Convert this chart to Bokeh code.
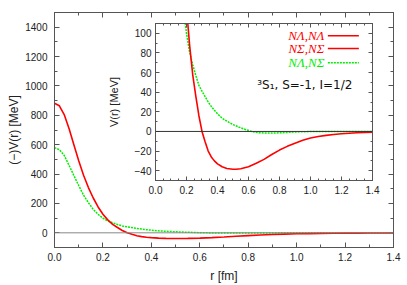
from bokeh.plotting import figure
from bokeh.models import (LinearAxis, Range1d, Span, Label, Column,
                          PrintfTickFormatter, SingleIntervalTicker,
                          CustomJSTickFormatter)
from bokeh.embed import file_html
from bokeh.resources import INLINE

# ---------------- data ----------------
r_red = [0.00, 0.02, 0.04, 0.06, 0.08, 0.10, 0.12, 0.14, 0.16, 0.18, 0.20,
         0.22, 0.24, 0.26, 0.28, 0.30, 0.32, 0.34, 0.36, 0.38, 0.40, 0.43,
         0.46, 0.50, 0.52, 0.55, 0.60, 0.65, 0.70, 0.75, 0.80, 0.85, 0.90,
         0.95, 1.00, 1.05, 1.10, 1.15, 1.20, 1.25, 1.30, 1.35, 1.40]
v_red = [882, 865, 805, 710, 600, 490, 392, 308, 237, 176, 126,
         88, 58, 36, 16, 0, -10.5, -20, -26, -30, -33, -36,
         -37.8, -38.5, -38.5, -38, -36, -32.5, -28.5, -23.5, -19, -15.2, -12,
         -9, -6.7, -5.2, -4, -3.1, -2.4, -1.8, -1.3, -1.0, -0.7]

r_green = [0.00, 0.02, 0.04, 0.06, 0.08, 0.10, 0.12, 0.14, 0.16, 0.18, 0.20,
           0.22, 0.24, 0.26, 0.28, 0.30, 0.32, 0.34, 0.36, 0.38, 0.40, 0.43,
           0.46, 0.50, 0.54, 0.58, 0.62, 0.66, 0.70, 0.75, 0.80, 0.85, 0.90,
           0.95, 1.00, 1.10, 1.20, 1.30, 1.40]
v_green = [580, 566, 527, 460, 390, 322, 256, 205, 160, 126, 100,
           81, 68, 57, 47, 41, 35.5, 30, 25.5, 21.5, 18, 13.5,
           10.5, 7, 4.3, 2, 0, -1.2, -1.6, -1.6, -1.4, -1.0, -0.6,
           -0.3, -0.1, 0, 0, 0, 0]

legend_labels = ["NΛ,NΛ", "NΣ,NΣ", "NΛ,NΣ"]
legend_colors = ["#ff0000", "#ff0000", "#00ee00"]
legend_dashes = ["solid", "solid", "2 1"]
note_text = "³S₁, S=-1, I=1/2"

RED = "#ff0000"
GREEN = "#00ee00"
AX = "#555555"
FONT = "Liberation Sans"
X_END = 1.40001


def style(p, tick_font, label_font, in_major, in_minor):
    p.outline_line_color = AX
    p.outline_line_width = 1
    p.xgrid.visible = False
    p.ygrid.visible = False
    for ax in p.axis:
        ax.axis_line_color = AX
        ax.major_tick_line_color = AX
        ax.minor_tick_line_color = AX
        ax.major_tick_in = in_major
        ax.major_tick_out = 0
        ax.minor_tick_in = in_minor
        ax.minor_tick_out = 0
        ax.major_label_text_font = FONT
        ax.major_label_text_font_size = tick_font
        ax.major_label_text_color = "#222222"
        ax.axis_label_text_font = FONT
        ax.axis_label_text_font_size = label_font
        ax.axis_label_text_font_style = "normal"
        ax.axis_label_text_color = "#222222"


def mirror(p, xt, yt, in_major, in_minor):
    for tk, side in ((xt, "above"), (yt, "right")):
        ax = LinearAxis(ticker=tk, axis_label=None, major_label_standoff=0,
                        formatter=CustomJSTickFormatter(code="return ''"),
                        major_label_text_font_size="1px",
                        major_label_text_alpha=0,
                        axis_line_color=AX, major_tick_line_color=AX,
                        minor_tick_line_color=AX, major_tick_in=in_major,
                        major_tick_out=0, minor_tick_in=in_minor,
                        minor_tick_out=0)
        p.add_layout(ax, side)


# ---------------- main figure ----------------
p = figure(width=407, height=285, output_backend="svg", toolbar_location=None,
           x_range=Range1d(0, X_END), y_range=Range1d(-100, 1500),
           min_border_left=54, min_border_right=14, min_border_top=12,
           min_border_bottom=30, background_fill_color="white",
           border_fill_color="white")
xt = SingleIntervalTicker(interval=0.2, num_minor_ticks=2)
yt = SingleIntervalTicker(interval=200, num_minor_ticks=2)
p.xaxis.ticker = xt
p.yaxis.ticker = yt
p.xaxis.formatter = PrintfTickFormatter(format="%.1f")
p.xaxis.axis_label = "r [fm]"
p.yaxis.axis_label = "(−)V(r) [MeV]"
style(p, "10px", "12px", 5, 3)
mirror(p, xt, yt, 5, 3)
p.xaxis[0].major_label_standoff = 4
p.xaxis[0].axis_label_standoff = 3
p.yaxis[0].major_label_standoff = 7
p.yaxis[0].axis_label_standoff = 1

p.add_layout(Span(location=0, dimension="width", line_color="#888888", line_width=1))
p.line(r_green, v_green, line_color=GREEN, line_width=1.5, line_dash="2 1")
p.line(r_red, v_red, line_color=RED, line_width=1.6)

# ---------------- inset figure ----------------
q = figure(width=285, height=180, output_backend="svg", toolbar_location=None,
           x_range=Range1d(0, X_END), y_range=Range1d(-50, 110),
           min_border_left=40, min_border_right=3, min_border_top=3,
           min_border_bottom=20, background_fill_color="white",
           border_fill_color="white",
           styles={"position": "absolute", "left": "101px", "top": "20px"})
xt2 = SingleIntervalTicker(interval=0.2, num_minor_ticks=4)
yt2 = SingleIntervalTicker(interval=20, num_minor_ticks=2)
q.xaxis.ticker = xt2
q.yaxis.ticker = yt2
q.xaxis.formatter = PrintfTickFormatter(format="%.1f")
q.yaxis.axis_label = "V(r) [MeV]"
style(q, "10px", "11px", 4, 2)
mirror(q, xt2, yt2, 4, 2)
q.xaxis[0].major_label_standoff = 5
q.yaxis[0].major_label_standoff = 4
q.yaxis[0].axis_label_standoff = 12

q.add_layout(Span(location=0, dimension="width", line_color="#333333", line_width=1))
q.line(r_green, v_green, line_color=GREEN, line_width=1.5, line_dash="2 1")
q.line(r_red, v_red, line_color=RED, line_width=1.6)

# legend (text left of key line, as in the reference)
leg_text_x = 1.09
leg_x0, leg_x1 = 1.112, 1.312
leg_rows = [97.5, 84.5, 70.0]
for lab, col, dash, yy in zip(legend_labels, legend_colors, legend_dashes, leg_rows):
    q.add_layout(Label(x=leg_text_x, y=yy, text=lab, text_align="right",
                       text_baseline="middle", text_color=col,
                       text_font="Liberation Serif", text_font_style="italic",
                       text_font_size="13px"))
    q.segment(x0=[leg_x0], y0=[yy], x1=[leg_x1], y1=[yy], line_color=col,
              line_width=1.5, line_dash=dash)
q.add_layout(Label(x=1.27, y=47, text=note_text, text_align="right",
                   text_baseline="middle", text_color="#111111",
                   text_font="DejaVu Sans", text_font_size="12px"))

layout = Column(children=[p, q], styles={"position": "relative"})

open("out.html", "w").write(file_html(layout, INLINE))
